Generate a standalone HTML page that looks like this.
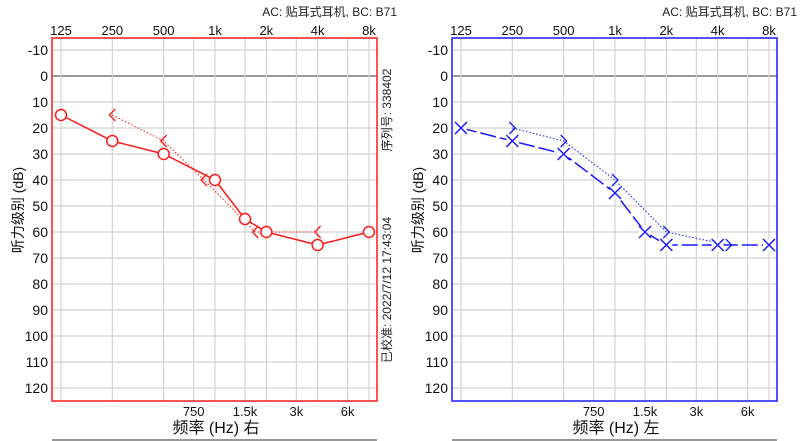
<!DOCTYPE html>
<html><head><meta charset="utf-8">
<style>
html,body{margin:0;padding:0;background:#fff;width:804px;height:441px;overflow:hidden}
svg{display:block;font-family:"Liberation Sans","Noto Sans CJK SC",sans-serif}
</style></head>
<body>
<svg id="chart" width="804" height="441" viewBox="0 0 804 441"></svg>
<script>
// ---- data ----
const topTickLabels = ["125","250","500","1k","2k","4k","8k"];
const topTickFreqs = [125,250,500,1000,2000,4000,8000];
const bottomTickLabels = ["750","1.5k","3k","6k"];
const bottomTickFreqs = [750,1500,3000,6000];
const yTicks = [-10,0,10,20,30,40,50,60,70,80,90,100,110,120];

const rightAcFreqs = [125,250,500,1000,1500,2000,4000,8000];
const rightAcValues = [15,25,30,40,55,60,65,60];
const rightBcFreqs = [250,500,1000,2000,4000];
const rightBcValues = [15,25,40,60,60];

const leftAcFreqs = [125,250,500,1000,1500,2000,4000,8000];
const leftAcValues = [20,25,30,45,60,65,65,65];
const leftBcFreqs = [250,500,1000,2000,4000];
const leftBcValues = [20,25,40,60,65];

const svg = document.getElementById('chart');
const NS = 'http://www.w3.org/2000/svg';
function mk(tag, attrs, parent){
  const e = document.createElementNS(NS, tag);
  for (const k in attrs) e.setAttribute(k, attrs[k]);
  (parent||svg).appendChild(e);
  return e;
}

function drawPanel(ox, color, acF, acV, bcF, bcV, side, title, showSide){
  const L = ox+52, R = ox+377, T = 38, B = 401;
  const x = f => ox + 61 + Math.log2(f/125) * 51.33;
  const y = v => 76 + v * 2.6;
  const g = mk('g', {});
  
  

  // header
  const hdr = mk('text', {x: ox+397, y: 16, 'text-anchor':'end', 'font-size':12, fill:'#222'}, g);
  hdr.textContent = 'AC: 贴耳式耳机, BC: B71';
  
  

  // grid
  yTicks.forEach(v => {
    const ln = mk('line', {x1:L, x2:R, y1:y(v), y2:y(v), stroke: v===0?'#777':'#d4d4d4', 'stroke-width': v===0?1.5:1.2}, g);
    
    
    const t = mk('text', {x: ox+48, y: y(v)+5, 'text-anchor':'end', 'font-size':14, fill:'#111'}, g);
    t.textContent = v;
    
    
  });
  topTickFreqs.forEach((f,i) => {
    const ln = mk('line', {x1:x(f), x2:x(f), y1:T, y2:B, stroke:'#d4d4d4', 'stroke-width':1.2}, g);
    
    
    const t = mk('text', {x:x(f), y:35, 'text-anchor':'middle', 'font-size':13, fill:'#111'}, g);
    t.textContent = topTickLabels[i];
    
    
  });
  bottomTickFreqs.forEach((f,i) => {
    const ln = mk('line', {x1:x(f), x2:x(f), y1:T, y2:B, stroke:'#d4d4d4', 'stroke-width':1.2}, g);
    
    
    const t = mk('text', {x:x(f), y:416, 'text-anchor':'middle', 'font-size':13, fill:'#111'}, g);
    t.textContent = bottomTickLabels[i];
    
    
  });
  // frame
  const fr = mk('rect', {x:L, y:T, width:R-L, height:B-T, fill:'none', stroke:color, 'stroke-width':1.5}, g);
  
  

  // axis titles
  const yt = mk('text', {x:0, y:0, transform:`translate(${ox+23},210) rotate(-90)`, 'text-anchor':'middle', 'font-size':14, fill:'#111'}, g);
  yt.textContent = '听力级别 (dB)';
  
  
  const xt = mk('text', {x: ox+216, y:433, 'text-anchor':'middle', 'font-size':16, fill:'#111'}, g);
  xt.textContent = title;
  
  
  const bl = mk('line', {x1:L, x2:R, y1:440, y2:440, stroke:'#777', 'stroke-width':1.5}, g);
  
  

  if (showSide){
    const s1 = mk('text', {x:0,y:0, transform:`translate(${ox+391},110) rotate(-90)`, 'text-anchor':'middle', 'font-size':12, fill:'#222'}, g);
    s1.textContent = '序列号: 338402';
    
    
    const s2 = mk('text', {x:0,y:0, transform:`translate(${ox+391},290) rotate(-90)`, 'text-anchor':'middle', 'font-size':12, fill:'#222'}, g);
    s2.textContent = '已校准: 2022/7/12 17:43:04';
    
    
  }

  // BC dotted line
  const isRight = side === 'right';
  const bcOff = (f, v) => {
    const i = acF.indexOf(f);
    return (i >= 0 && acV[i] === v) ? (isRight ? -11 : 11) : 0;
  };
  let bcPts = bcF.map((f,i) => [x(f)+bcOff(f,bcV[i]), y(bcV[i])]);
  const bcl = mk('polyline', {points: bcPts.map(p=>p.join(',')).join(' '), fill:'none', stroke:color, 'stroke-width':1, 'stroke-dasharray':'1.5,2'}, g);
  
  

  // AC line
  const acPts = acF.map((f,i) => [x(f), y(acV[i])]);
  const acl = mk('polyline', {points: acPts.map(p=>p.join(',')).join(' '), fill:'none', stroke:color, 'stroke-width':1.5, 'stroke-dasharray': isRight ? '' : '16,4'}, g);
  
  

  // AC markers
  acPts.forEach(p => {
    if (isRight){
      const c = mk('circle', {cx:p[0], cy:p[1], r:5.5, fill:'#fff', stroke:color, 'stroke-width':1.5}, g);
      
      
    } else {
      const bg = mk('circle', {cx:p[0], cy:p[1], r:6, fill:'#fff'}, g);
      
      
      const m = mk('path', {d:`M${p[0]-6},${p[1]-6}L${p[0]+6},${p[1]+6}M${p[0]+6},${p[1]-6}L${p[0]-6},${p[1]+6}`, stroke:color, 'stroke-width':1.5, fill:'none'}, g);
      
      
    }
  });
  // BC markers
  bcPts.forEach(p => {
    const d = isRight
      ? `M${p[0]+3},${p[1]-6}L${p[0]-3},${p[1]}L${p[0]+3},${p[1]+6}`
      : `M${p[0]-3},${p[1]-6}L${p[0]+3},${p[1]}L${p[0]-3},${p[1]+6}`;
    const m = mk('path', {d, stroke:color, 'stroke-width':1.3, fill:'none'}, g);
    
    
  });
}

drawPanel(0, '#ff1a1a', rightAcFreqs, rightAcValues, rightBcFreqs, rightBcValues, 'right', '频率 (Hz) 右', true);
drawPanel(400, '#1a1aff', leftAcFreqs, leftAcValues, leftBcFreqs, leftBcValues, 'left', '频率 (Hz) 左', false);
</script>
</body></html>
